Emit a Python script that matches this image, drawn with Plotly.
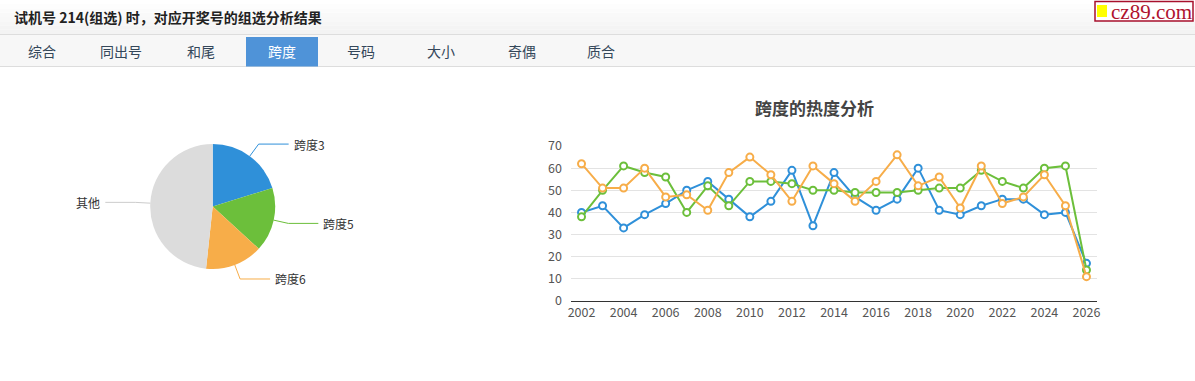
import math
import plotly.graph_objects as go

W, H = 1195, 381

# ---------------- data ----------------
years = list(range(2002, 2027))
span3 = [40, 43, 33, 39, 44, 50, 54, 46, 38, 45, 59, 34, 58, 47, 41, 46, 60, 41, 39, 43, 46, 46, 39, 40, 17]
span5 = [38, 50, 61, 58, 56, 40, 52, 43, 54, 54, 53, 50, 50, 49, 49, 49, 50, 51, 51, 59, 54, 51, 60, 61, 14]
span6 = [62, 51, 51, 60, 47, 48, 41, 58, 65, 57, 45, 61, 53, 45, 54, 66, 52, 56, 42, 61, 44, 47, 57, 43, 11]
series_names = ["跨度3", "跨度5", "跨度6"]
series_colors = ["#2f90d9", "#6cbf3b", "#f7ad49"]

pie_labels = ["跨度3", "跨度5", "跨度6", "其他"]
pie_values = [20.2, 16.6, 14.9, 48.3]
pie_colors = ["#2f90d9", "#6cbf3b", "#f7ad49", "#dcdcdc"]
pie_line_colors = ["#2f90d9", "#6cbf3b", "#f7ad49", "#cccccc"]

tabs = ["综合", "同出号", "和尾", "跨度", "号码", "大小", "奇偶", "质合"]
active_tab = "跨度"
header_text = "试机号 214(组选) 时，对应开奖号的组选分析结果"
chart_title = "跨度的热度分析"
x_ticks = list(range(2002, 2027, 2))
y_ticks = list(range(0, 71, 10))

FONT = "Noto Sans CJK SC, Microsoft YaHei, sans-serif"


def xp(x):
    return x / W


def yp(y):
    return 1 - y / H


shapes = []
annotations = []

# ---------------- header bar (gradient) ----------------
bands = 8
for i in range(bands):
    y0 = 34 * i / bands
    y1 = 34 * (i + 1) / bands
    c = int(255 - (255 - 243) * i / (bands - 1))
    shapes.append(dict(type="rect", xref="paper", yref="paper",
                       x0=0, x1=1, y0=yp(y1), y1=yp(y0),
                       fillcolor=f"rgb({c},{c},{c})", line=dict(width=0), layer="below"))
annotations.append(dict(text=f"<b>{header_text}</b>", xref="paper", yref="paper",
                        x=xp(12), y=yp(17), xanchor="left", yanchor="middle",
                        showarrow=False, font=dict(family=FONT, size=14, color="#222")))

# logo
shapes.append(dict(type="rect", xref="paper", yref="paper", x0=xp(1095), x1=xp(1193),
                   y0=yp(21), y1=yp(1.5), fillcolor="white", line=dict(color="#a8102c", width=1.5)))
shapes.append(dict(type="rect", xref="paper", yref="paper", x0=xp(1097), x1=xp(1107),
                   y0=yp(17), y1=yp(5), fillcolor="#ffff00", line=dict(width=0)))
annotations.append(dict(text="cz89.com", xref="paper", yref="paper", x=xp(1109), y=yp(11.5),
                        xanchor="left", yanchor="middle", showarrow=False,
                        font=dict(family="Liberation Serif, DejaVu Serif, serif", size=21, color="#b0122e")))

# ---------------- tab bar ----------------
shapes.append(dict(type="rect", xref="paper", yref="paper", x0=0, x1=1, y0=yp(67), y1=yp(34.5),
                   fillcolor="#f7f7f7", line=dict(width=0), layer="below"))
shapes.append(dict(type="line", xref="paper", yref="paper", x0=0, x1=1, y0=yp(34.5), y1=yp(34.5),
                   line=dict(color="#dddddd", width=1)))
shapes.append(dict(type="line", xref="paper", yref="paper", x0=0, x1=1, y0=yp(66.5), y1=yp(66.5),
                   line=dict(color="#dddddd", width=1)))
tab_centers = [42, 121, 201, 282, 361, 441, 522, 601]
for name, cx in zip(tabs, tab_centers):
    color = "#34475a"
    if name == active_tab:
        shapes.append(dict(type="rect", xref="paper", yref="paper", x0=xp(246), x1=xp(318),
                           y0=yp(66.5), y1=yp(37), fillcolor="#4f93d8", line=dict(width=0)))
        color = "white"
    annotations.append(dict(text=name, xref="paper", yref="paper", x=xp(cx), y=yp(50.5),
                            xanchor="center", yanchor="middle", showarrow=False,
                            font=dict(family=FONT, size=14, color=color)))

# ---------------- pie ----------------
pcx, pcy, pr = 212.7, 206.5, 62.5
fig = go.Figure()
fig.add_trace(go.Pie(labels=pie_labels, values=pie_values, sort=False, direction="clockwise",
                     rotation=0, textinfo="none", hoverinfo="label+percent",
                     marker=dict(colors=pie_colors, line=dict(width=0)),
                     domain=dict(x=[xp(pcx - pr), xp(pcx + pr)], y=[yp(pcy + pr), yp(pcy - pr)]),
                     showlegend=False))

total = sum(pie_values)
cum = 0.0
for lab, val, lc in zip(pie_labels, pie_values, pie_line_colors):
    mid = (cum + val / 2) / total * 2 * math.pi
    cum += val
    s, c = math.sin(mid), math.cos(mid)
    x0, y0 = pcx + pr * s, pcy - pr * c
    x1, y1 = pcx + (pr + 15) * s, pcy - (pr + 15) * c
    sign = 1 if s >= 0 else -1
    x2 = x1 + sign * 30
    shapes.append(dict(type="path", xref="paper", yref="paper",
                       path=f"M {xp(x0)},{yp(y0)} L {xp(x1)},{yp(y1)} L {xp(x2)},{yp(y1)}",
                       line=dict(color=lc, width=1)))
    annotations.append(dict(text=lab, xref="paper", yref="paper", x=xp(x2 + sign * 3), y=yp(y1),
                            xanchor="left" if sign > 0 else "right", yanchor="middle",
                            showarrow=False, font=dict(family=FONT, size=12, color="#333")))

# ---------------- line chart ----------------
for name, vals, col in zip(series_names, [span3, span5, span6], series_colors):
    fig.add_trace(go.Scatter(x=years, y=vals, name=name, mode="lines+markers",
                             line=dict(color=col, width=2),
                             marker=dict(symbol="circle", size=7, color="white",
                                         line=dict(color=col, width=2)),
                             showlegend=False, cliponaxis=False))

annotations.append(dict(text=f"<b>{chart_title}</b>", xref="paper", yref="paper",
                        x=xp(815), y=yp(108), xanchor="center", yanchor="middle", showarrow=False,
                        font=dict(family=FONT, size=17, color="#444")))

fig.update_layout(
    width=W, height=H, autosize=False,
    margin=dict(l=0, r=0, t=0, b=0, pad=0, autoexpand=False),
    showlegend=False,
    paper_bgcolor="white", plot_bgcolor="white",
    shapes=shapes, annotations=annotations,
    font=dict(family=FONT),
    xaxis=dict(domain=[xp(571), xp(1097)], range=[2001.5, 2026.5], tickvals=x_ticks,
               showgrid=False, zeroline=False, showline=True, linecolor="#333", linewidth=1,
               ticks="", tickfont=dict(size=12.5, color="#555"), fixedrange=True, automargin=False),
    yaxis=dict(domain=[yp(301), yp(146)], range=[0, 70], tickvals=y_ticks,
               showgrid=True, gridcolor="#e3e3e3", gridwidth=1, zeroline=False, showline=False,
               ticks="", ticklabelstandoff=8, tickfont=dict(size=12.5, color="#555"), fixedrange=True,
               automargin=False),
)

fig.write_html("out.html", config={"displayModeBar": False, "responsive": False},
               post_script="document.body.style.margin='0';document.body.style.overflow='hidden';")
